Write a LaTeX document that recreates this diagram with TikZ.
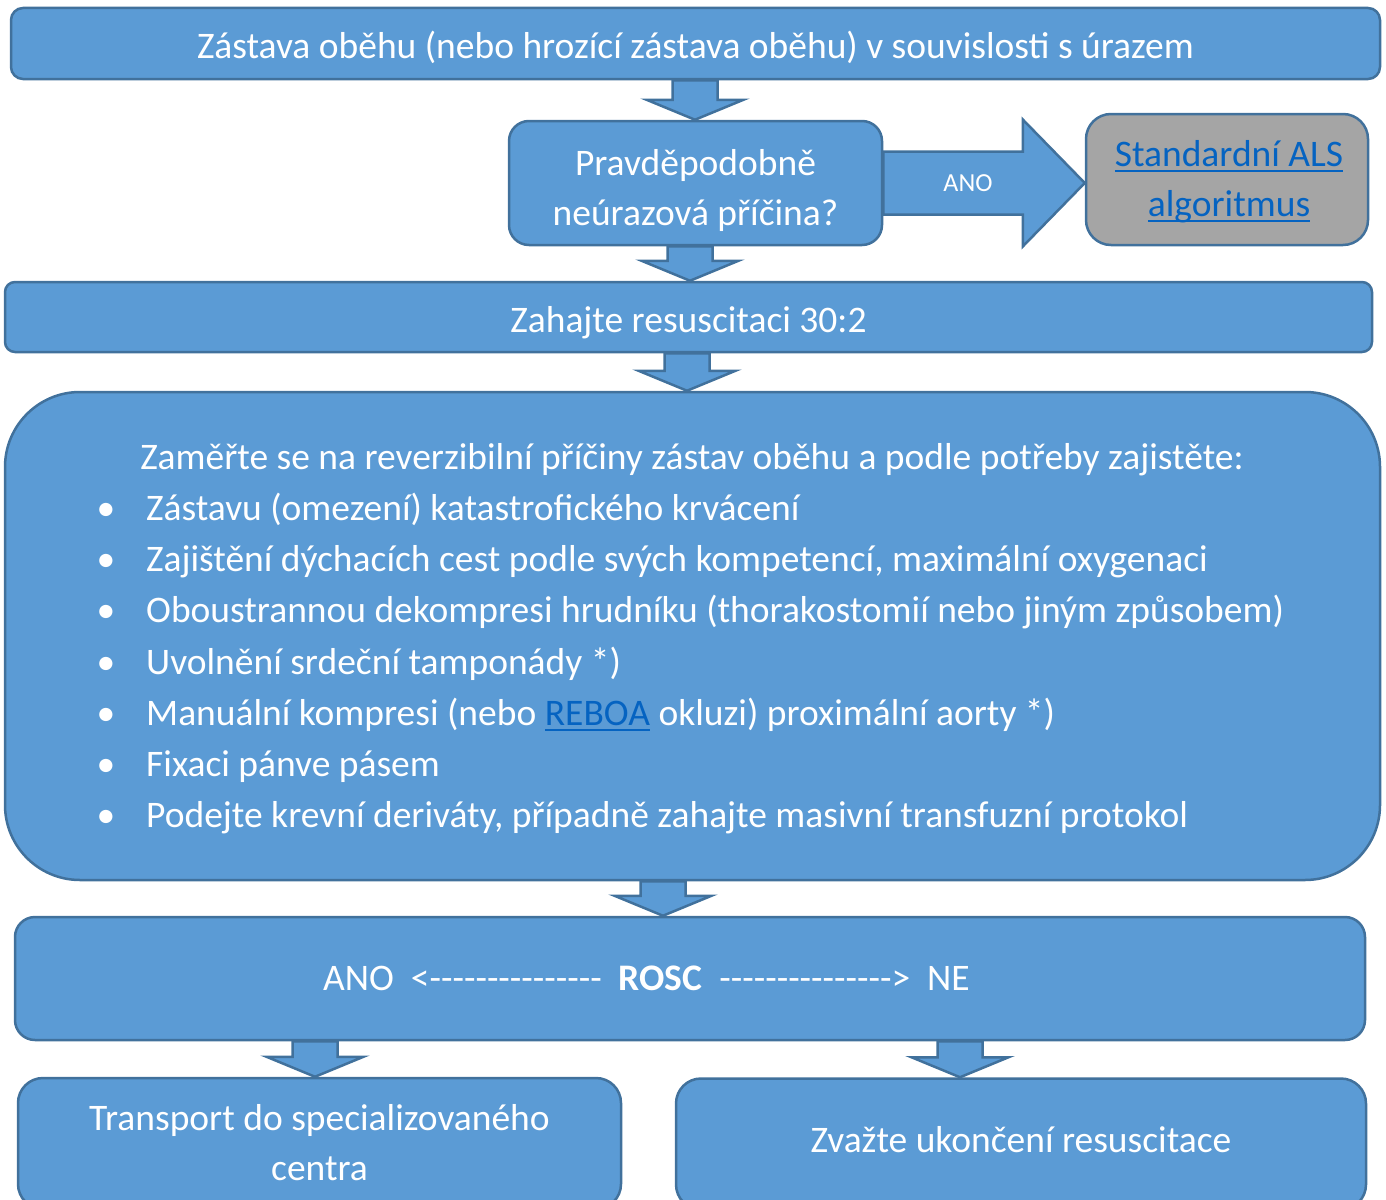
\documentclass[tikz,border=0pt]{standalone}
\usepackage{fontspec}
\setmainfont{Carlito}
\usetikzlibrary{calc}

\definecolor{boxfill}{HTML}{5B9BD5}
\definecolor{boxline}{HTML}{41719C}
\definecolor{alsgray}{HTML}{A5A5A5}
\definecolor{linkblue}{HTML}{0563C1}

\newsavebox{\linkbox}
\newcommand{\weblink}[1]{{\color{linkblue}\sbox{\linkbox}{#1}%
  \rlap{\rule[-6pt]{\wd\linkbox}{2.4pt}}\usebox{\linkbox}}}

\tikzset{
  box/.style={draw=boxline, fill=boxfill, line width=2.5pt, inner sep=0pt},
  boxtext/.style={text=white, align=center, inner sep=0pt, anchor=base,
    font=\fontsize{37.5}{50}\selectfont},
  blockarrow/.style={draw=boxline, fill=boxfill, line width=2.5pt, line join=miter},
  listtext/.style={text=white, inner sep=0pt, anchor=base west,
    font=\fontsize{37.5}{50}\selectfont}
}

% down block arrow from one box to the next, at x = #3
\newcommand{\downblock}[3]{%
  \draw[blockarrow] let \p1=(#1.south), \p2=(#2.north) in
    (#3pt-22.5pt,\y1) -- (#3pt-22.5pt,\y2+20pt) -- (#3pt-48.5pt,\y2+20pt) -- (#3pt,\y2)
    -- (#3pt+48.5pt,\y2+20pt) -- (#3pt+22.5pt,\y2+20pt) -- (#3pt+22.5pt,\y1) -- cycle;}

\begin{document}
\begin{tikzpicture}[x=1pt, y=-1pt]
	\useasboundingbox (0,0) rectangle (1386,1199);

	% boxes
	\node[box, rounded corners=12pt, minimum width=1369pt, minimum height=71pt] (arrest) at (695.5,43.5) {};
	\node[box, rounded corners=20pt, minimum width=373pt, minimum height=124pt] (likely) at (695.5,183) {};
	\node[box, fill=alsgray, rounded corners=25pt, minimum width=282pt, minimum height=131pt] (als) at (1227,179.5) {};
	\node[box, rounded corners=10pt, minimum width=1367pt, minimum height=70pt] (cpr) at (688.5,317) {};
	\node[box, rounded corners=75pt, minimum width=1375pt, minimum height=488pt] (causes) at (692.5,636) {};
	\node[box, rounded corners=20pt, minimum width=1350pt, minimum height=123pt] (rosc) at (690,978.5) {};
	\node[box, rounded corners=25pt, minimum width=603pt, minimum height=131pt] (transport) at (319.5,1143.5) {};
	\node[box, rounded corners=25pt, minimum width=690pt, minimum height=131pt] (stopcpr) at (1021,1144) {};

	% ANO arrow
	\draw[blockarrow] let \p1=(likely.east), \p2=(als.west) in
		(\x1,\y1+31.5pt) -- (\x2-62pt,\y1+31.5pt) -- (\x2-62pt,\y1+63.5pt) -- (\x2,\y1)
		-- (\x2-62pt,\y1-63.5pt) -- (\x2-62pt,\y1-31.5pt) -- (\x1,\y1-31.5pt) -- cycle;
	\node[text=white, font=\fontsize{26}{30}\selectfont] (ano) at (968,183) {ANO};

	\downblock{arrest}{likely}{695}
	\downblock{likely}{cpr}{690}
	\downblock{cpr}{causes}{687}
	\downblock{causes}{rosc}{663}
	\downblock{rosc}{transport}{315}
	\downblock{rosc}{stopcpr}{960}

	% texts (anchor base = last line)
	\node[boxtext] (arresttext) at (695.5,59) 
		{Zástava oběhu (nebo hrozící zástava oběhu) v souvislosti s úrazem};
	\node[boxtext] (likelytext) at (695.5,225) {Pravděpodobně\\neúrazová příčina?};
	\node[boxtext] (alstext) at (1229,216) {\weblink{Standardní ALS}\\\weblink{algoritmus}};
	\node[boxtext] (cprtext) at (688.5,332.5) {Zahajte resuscitaci 30:2};
	\node[boxtext] (head) at (692,469)
		{Zaměřte se na reverzibilní příčiny zástav oběhu a podle potřeby zajistěte:};
	\foreach \ypos/\itemtext [count=\k] in {
		520/{Zástavu (omezení) katastrofického krvácení},
		571/{Zajištění dýchacích cest podle svých kompetencí, maximální oxygenaci},
		622/{Oboustrannou dekompresi hrudníku (thorakostomií nebo jiným způsobem)},
		674/{Uvolnění srdeční tamponády *)},
		725/{Manuální kompresi (nebo \weblink{REBOA} okluzi) proximální aorty *)},
		776/{Fixaci pánve pásem},
		827/{Podejte krevní deriváty, případně zahajte masivní transfuzní protokol}} {
		\node[listtext, anchor=base] (dot\k) at (106,\ypos) {•};
		\node[listtext] (item\k) at (146,\ypos) {\itemtext};
	}
	\node[boxtext] (rosctext) at (646.5,990.5)
		{ANO\ \ <-{}-{}-{}-{}-{}-{}-{}-{}-{}-{}-{}-{}-{}-{}-\ \ \textbf{ROSC}\ \ -{}-{}-{}-{}-{}-{}-{}-{}-{}-{}-{}-{}-{}-{}-{}>\ \ NE};
	\node[boxtext] (transporttext) at (319.5,1180) {Transport do specializovaného\\centra};
	\node[boxtext] (stopcprtext) at (1021,1152) {Zvažte ukončení resuscitace};
\end{tikzpicture}
\end{document}
